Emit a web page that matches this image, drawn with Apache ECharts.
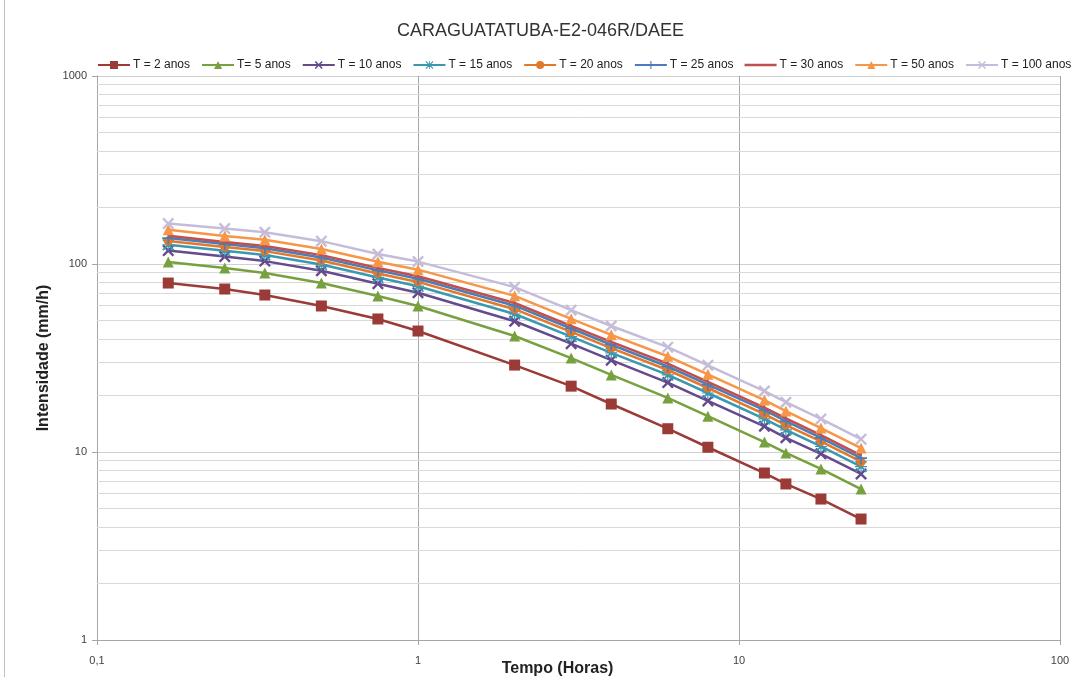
<!DOCTYPE html>
<html>
<head>
<meta charset="utf-8">
<script src="https://cdn.jsdelivr.net/npm/echarts@6/dist/echarts.min.js"></script>
<style>html,body{margin:0;padding:0;background:#fff}#c{width:1081px;height:677px}</style>
</head>
<body>
<div id="c"></div>
<script>
// Durations (hours)
const tempos = [0.1667, 0.25, 0.3333, 0.5, 0.75, 1, 2, 3, 4, 6, 8, 12, 14, 18, 24];
// Intensities (mm/h) per return period
const T2   = [79.2, 73.6, 68.4, 59.8, 51.0, 44.0, 29.0, 22.4, 18.0, 13.3, 10.6, 7.73, 6.76, 5.62, 4.40];
const T5   = [102.5, 95.2, 89.6, 79.2, 67.6, 59.8, 41.4, 31.6, 25.7, 19.4, 15.5, 11.3, 9.88, 8.13, 6.35];
const T10  = [117.9, 109.5, 103.6, 92.1, 78.6, 70.3, 49.6, 37.7, 30.8, 23.4, 18.7, 13.7, 11.9, 9.78, 7.64];
const T15  = [126.6, 117.6, 111.6, 99.3, 84.8, 76.2, 54.2, 41.1, 33.7, 25.7, 20.6, 15.0, 13.1, 10.7, 8.37];
const T20  = [132.7, 123.2, 117.1, 104.4, 89.1, 80.3, 57.5, 43.5, 35.7, 27.3, 21.9, 15.9, 13.9, 11.4, 8.88];
const T25  = [137.4, 127.6, 121.4, 108.3, 92.5, 83.5, 60.0, 45.4, 37.2, 28.5, 22.8, 16.7, 14.6, 11.9, 9.27];
const T30  = [141.2, 131.1, 124.8, 111.5, 95.2, 86.1, 62.0, 46.9, 38.5, 29.5, 23.6, 17.2, 15.1, 12.3, 9.59];
const T50  = [151.9, 141.0, 134.5, 120.3, 102.8, 93.3, 67.7, 51.1, 42.0, 32.3, 25.9, 18.9, 16.5, 13.4, 10.5];
const T100 = [164.0, 154.3, 147.6, 132.3, 113.0, 103.0, 75.3, 56.8, 46.8, 36.1, 28.9, 21.1, 18.4, 15.0, 11.7];

const seriesNames = ['T = 2 anos', 'T= 5 anos', 'T = 10 anos', 'T = 15 anos', 'T = 20 anos', 'T = 25 anos', 'T = 30 anos', 'T = 50 anos', 'T = 100 anos'];
const seriesValues = [T2, T5, T10, T15, T20, T25, T30, T50, T100];
// Minor horizontal gridline values
const yMinorGrid = [2,3,4,5,6,7,8,9,20,30,40,50,60,70,80,90,200,300,400,500,600,700,800,900];

const X_PATH = 'path://M0,1.4L1.4,0L5,3.6L8.6,0L10,1.4L6.4,5L10,8.6L8.6,10L5,6.4L1.4,10L0,8.6L3.6,5Z';
const PLUS_PATH = 'path://M4.3,0H5.7V4.3H10V5.7H5.7V10H4.3V5.7H0V4.3H4.3Z';
const STAR_PATH = 'path://M0,1L1,0L5,4L9,0L10,1L6,5L10,9L9,10L5,6L1,10L0,9L4,5ZM4.5,0H5.5V4.5H10V5.5H5.5V10H4.5V5.5H0V4.5H4.5Z';
const LINE_ICON = 'path://M0,0H40V3H0Z';

const styles = [
  {color: '#9B3B38', symbol: 'rect', size: 11},
  {color: '#77A13E', symbol: 'triangle', size: 11},
  {color: '#654A8C', symbol: X_PATH, size: 12},
  {color: '#3A98B0', symbol: STAR_PATH, size: 12},
  {color: '#E3782A', symbol: 'circle', size: 9},
  {color: '#4A7EBB', symbol: PLUS_PATH, size: 12},
  {color: '#C0504D', symbol: 'none', size: 0},
  {color: '#F79646', symbol: 'triangle', size: 11},
  {color: '#C5BCDA', symbol: X_PATH, size: 12}
];

const series = [{
  type: 'line', name: '_grid', data: [], silent: true, z: 1,
  markLine: {
    silent: true, symbol: 'none', animation: false,
    label: {show: false},
    lineStyle: {color: '#d9d9d9', width: 1, type: 'solid'},
    data: yMinorGrid.map(v => ({yAxis: v}))
  }
}];
seriesNames.forEach((n, i) => {
  const st = styles[i];
  series.push({
    type: 'line', name: n, zlevel: 1, z: 3 + i,
    data: tempos.map((t, k) => [t, seriesValues[i][k]]),
    symbol: st.symbol, symbolSize: st.size, showSymbol: st.symbol !== 'none',
    lineStyle: {color: st.color, width: 2.5},
    itemStyle: {color: st.color, borderWidth: 0},
    emphasis: {disabled: true}
  });
});

const legendData = seriesNames.map((n, i) => styles[i].symbol === 'none' ? {name: n, icon: LINE_ICON} : {name: n});

const chart = echarts.init(document.getElementById('c'), null, {renderer: 'canvas'});
chart.setOption({
  animation: false,
  backgroundColor: '#ffffff',
  textStyle: {fontFamily: 'Liberation Sans'},
  title: {
    text: 'CARAGUATATUBA-E2-046R/DAEE', left: 'center', top: 17,
    textStyle: {fontSize: 18, fontWeight: 'normal', color: '#333', fontFamily: 'Liberation Sans'}
  },
  legend: {
    data: legendData, left: 92, top: 54, itemWidth: 32, itemHeight: 10, itemGap: 11,
    textStyle: {fontSize: 12, color: '#222', fontFamily: 'Liberation Sans', padding: [0, 0, 0, -2]}
  },
  grid: {left: 97, right: 21, top: 76, bottom: 37, containLabel: false, outerBoundsMode: 'none'},
  xAxis: {
    type: 'log', logBase: 10, min: 0.1, max: 100,
    name: 'Tempo (Horas)', nameLocation: 'middle', nameGap: 21, nameMoveOverlap: false,
    nameTextStyle: {fontSize: 16, fontWeight: 'bold', color: '#222', padding: [0, 42, 0, 0]},
    axisLine: {show: true, lineStyle: {color: '#a6a6a6', width: 1}},
    axisTick: {show: true, length: 5, lineStyle: {color: '#a6a6a6'}},
    axisLabel: {fontSize: 11, color: '#404040', margin: 15, formatter: v => String(v).replace('.', ',')},
    splitLine: {show: true, lineStyle: {color: '#a6a6a6', width: 1}},
    minorTick: {show: false}
  },
  yAxis: {
    type: 'log', logBase: 10, min: 1, max: 1000,
    name: 'Intensidade (mm/h)', nameLocation: 'middle', nameGap: 45, nameRotate: 90, nameMoveOverlap: false,
    nameTextStyle: {fontSize: 16, fontWeight: 'bold', color: '#222'},
    axisLine: {show: true, lineStyle: {color: '#a6a6a6', width: 1}},
    axisTick: {show: true, length: 5, lineStyle: {color: '#a6a6a6'}},
    axisLabel: {fontSize: 11, color: '#404040', margin: 10, formatter: v => String(Math.round(v))},
    splitLine: {show: true, lineStyle: {color: '#d0d0d0', width: 1}}
  },
  graphic: [{
    type: 'line', shape: {x1: 4.5, y1: 0, x2: 4.5, y2: 677}, style: {stroke: '#bfbfbf', lineWidth: 1}, silent: true
  }],
  series: series
});
</script>
</body>
</html>
